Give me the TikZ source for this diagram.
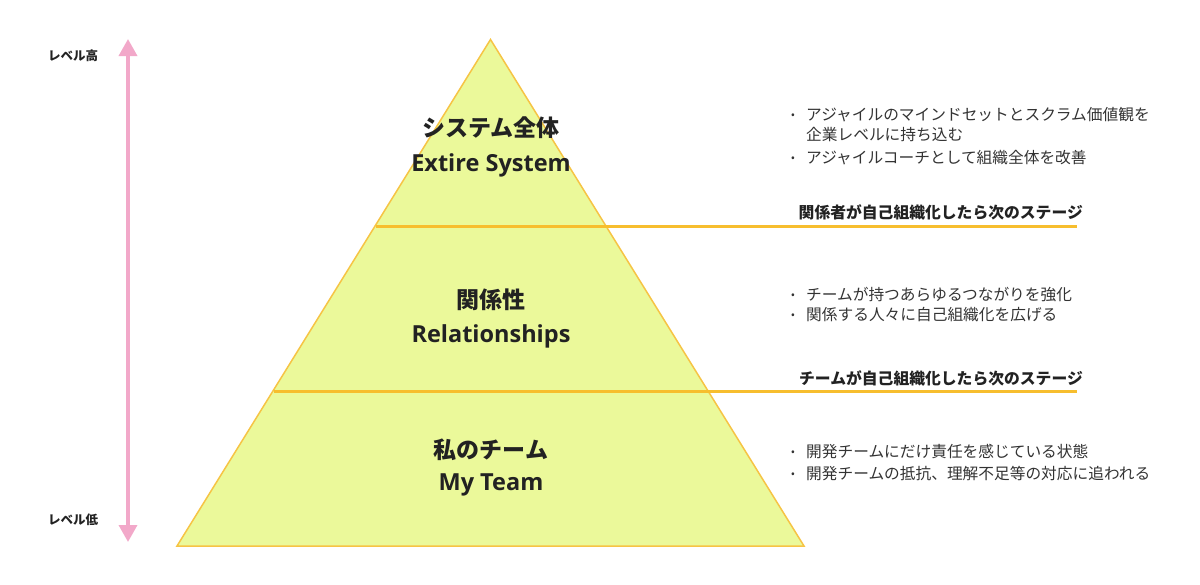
\documentclass[tikz,border=0pt]{standalone}
\usepackage{fontspec}
\setmainfont{Noto Sans CJK JP}
\newfontfamily\osans{Open Sans}
\usetikzlibrary{arrows.meta}
\definecolor{pyrfill}{HTML}{EBF99A}
\definecolor{pyrline}{HTML}{F6C445}
\definecolor{divline}{HTML}{F7BE2E}
\definecolor{pinkarrow}{HTML}{F2A8C9}
\definecolor{txtdark}{HTML}{222222}
\definecolor{txtbody}{HTML}{333333}
\tikzset{
  pyr/.style={fill=pyrfill, draw=pyrline, line width=1.5pt, line join=miter},
  divider/.style={draw=divline, line width=3pt},
  levarrow/.style={draw=pinkarrow, line width=3.5pt, {Triangle[length=17pt,width=18pt]}-{Triangle[length=17pt,width=18pt]}},
  titlejp/.style={text=txtdark, inner sep=0pt, font=\fontsize{23}{28}\selectfont\bfseries},
  titleen/.style={text=txtdark, inner sep=0pt, font=\osans\fontsize{23.5}{28}\selectfont\bfseries},
  bodytxt/.style={text=txtbody, inner sep=0pt, anchor=west, font=\fontsize{15.7}{19}\selectfont},
  bulletdot/.style={text=txtbody, inner sep=0pt, font=\fontsize{11}{12}\selectfont},
  stagetxt/.style={text=txtdark, inner sep=0pt, anchor=east, font=\fontsize{15.8}{19}\selectfont\bfseries},
  leveltxt/.style={text=txtdark, inner sep=0pt, anchor=west, font=\fontsize{12.5}{15}\selectfont\bfseries}
}
\begin{document}
\begin{tikzpicture}[x=1pt,y=-1pt]
\useasboundingbox (0,0) rectangle (1200,584);
% pyramid
\coordinate (apex) at (490.5,39.5);
\coordinate (bl) at (177,546);
\coordinate (br) at (804,546);
\draw[pyr] (apex) -- (br) -- (bl) -- cycle;
% dividers
\coordinate (d1s) at (375.5,226);
\coordinate (d1e) at (1077,226);
\coordinate (d2s) at (273.5,391);
\coordinate (d2e) at (1077,391);
\draw[divider] (d1s) -- (d1e);
\draw[divider] (d2s) -- (d2e);
% level arrow
\coordinate (atop) at (128,39);
\coordinate (abot) at (128,542);
\draw[levarrow] (abot) -- (atop);
\node[leveltxt] (lvhigh) at (48,56) {レベル高};
\node[leveltxt] (lvlow) at (48,520) {レベル低};
% titles
\node[titlejp] (t1jp) at (491,128) {システム全体};
\node[titleen] (t1en) at (491,165) {Extire System};
\node[titlejp] (t2jp) at (491,300) {関係性};
\node[titleen] (t2en) at (491,336) {Relationships};
\node[titlejp] (t3jp) at (491,450) {私のチーム};
\node[titleen] (t3en) at (491,485) {My Team};
% bullets section 1
\node[bulletdot] (b1a) at (793,116) {•};
\node[bodytxt] (s1a) at (806,115) {アジャイルのマインドセットとスクラム価値観を};
\node[bodytxt] (s1b) at (806,135) {企業レベルに持ち込む};
\node[bulletdot] (b1c) at (793,159) {•};
\node[bodytxt] (s1c) at (806,158) {アジャイルコーチとして組織全体を改善};
% stage 1
\node[stagetxt] (st1) at (1083,212) {関係者が自己組織化したら次のステージ};
% bullets section 2
\node[bulletdot] (b2a) at (793,296) {•};
\node[bodytxt] (s2a) at (806,295) {チームが持つあらゆるつながりを強化};
\node[bulletdot] (b2b) at (793,316) {•};
\node[bodytxt] (s2b) at (806,315) {関係する人々に自己組織化を広げる};
% stage 2
\node[stagetxt] (st2) at (1083,378) {チームが自己組織化したら次のステージ};
% bullets section 3
\node[bulletdot] (b3a) at (793,453) {•};
\node[bodytxt] (s3a) at (806,452) {開発チームにだけ責任を感じている状態};
\node[bulletdot] (b3b) at (793,475) {•};
\node[bodytxt] (s3b) at (806,474) {開発チームの抵抗、理解不足等の対応に追われる};
\end{tikzpicture}
\end{document}
